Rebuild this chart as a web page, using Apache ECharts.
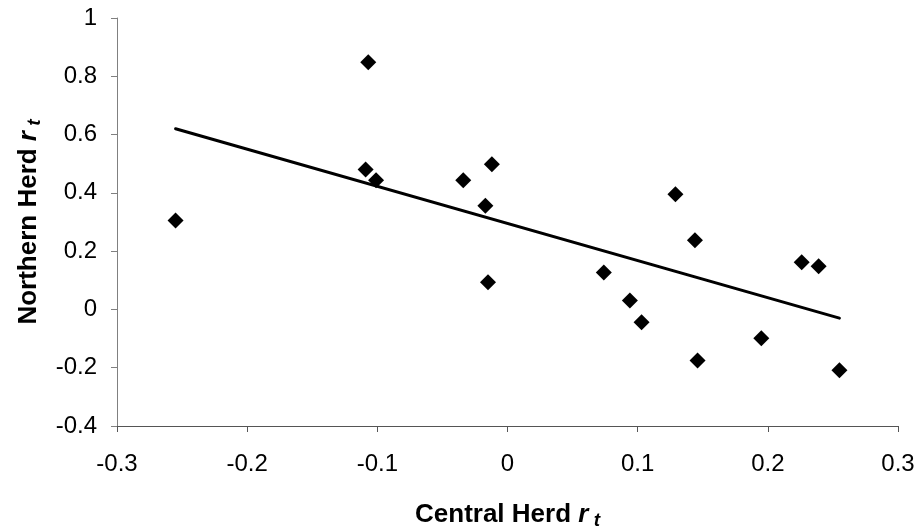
<!DOCTYPE html>
<html>
<head>
<meta charset="utf-8">
<script src="https://cdn.jsdelivr.net/npm/echarts@6/dist/echarts.min.js"></script>
<style>html,body{margin:0;padding:0;background:#fff}#c{width:923px;height:527px}</style>
</head>
<body>
<div id="c"></div>
<script>
var centralX = [-0.255, -0.107, -0.012, -0.109, -0.101, -0.034, -0.017, -0.015, 0.129, 0.144, 0.074, 0.094, 0.103, 0.146, 0.226, 0.239, 0.195, 0.255];
var northernY = [0.305, 0.848, 0.498, 0.480, 0.443, 0.443, 0.356, 0.093, 0.395, 0.237, 0.127, 0.031, -0.044, -0.175, 0.162, 0.148, -0.099, -0.209];
var trendX = [-0.255, 0.255];
var trendY = [0.620, -0.030];
var xTicks = {min: -0.3, max: 0.3, interval: 0.1};
var yTicks = {min: -0.4, max: 1, interval: 0.2};

var pts = centralX.map(function (x, i) { return [x, northernY[i]]; });
var trend = trendX.map(function (x, i) { return [x, trendY[i]]; });
var font = 'Liberation Sans, Arial, sans-serif';

function nameRich() {
  return {
    a: {fontFamily: font, fontSize: 26, fontWeight: 'bold', color: '#000'},
    b: {fontFamily: font, fontSize: 26, fontWeight: 'bold', fontStyle: 'italic', color: '#000'},
    c: {fontFamily: font, fontSize: 19, fontWeight: 'bold', fontStyle: 'italic', color: '#000', padding: [12, 0, 0, 0]}
  };
}

var chart = echarts.init(document.getElementById('c'), null, {renderer: 'canvas'});
chart.setOption({
  animation: false,
  backgroundColor: '#ffffff',
  grid: {left: 117, right: 25, top: 18, bottom: 101, containLabel: false, outerBoundsMode: 'none'},
  xAxis: {
    type: 'value', min: xTicks.min, max: xTicks.max, interval: xTicks.interval,
    splitLine: {show: false},
    axisLine: {onZero: false, lineStyle: {color: '#555', width: 1}},
    axisTick: {show: true, inside: false, length: 6, lineStyle: {color: '#555'}},
    axisLabel: {margin: 26, color: '#000', fontFamily: font, fontSize: 24,
      formatter: function (v) { return String(Math.round(v * 10) / 10); }},
    name: '{a|Central Herd }{b|r}{c| t}',
    nameLocation: 'middle', nameGap: 73,
    nameTextStyle: {rich: nameRich()}
  },
  yAxis: {
    type: 'value', min: yTicks.min, max: yTicks.max, interval: yTicks.interval,
    splitLine: {show: false},
    axisLine: {onZero: false, lineStyle: {color: '#808080', width: 1}},
    axisTick: {show: true, inside: false, length: 6, lineStyle: {color: '#808080'}},
    axisLabel: {margin: 20, color: '#000', fontFamily: font, fontSize: 24,
      formatter: function (v) { return String(Math.round(v * 10) / 10); }},
    name: '{a|Northern Herd }{b|r}{c| t}',
    nameLocation: 'middle', nameGap: 70, nameRotate: 90,
    nameTextStyle: {rich: nameRich()}
  },
  series: [
    {
      type: 'line', data: trend, symbol: 'none', silent: true,
      lineStyle: {color: '#000', width: 3, cap: 'round'}, z: 2
    },
    {
      type: 'scatter', data: pts, symbol: 'diamond', symbolSize: 16,
      itemStyle: {color: '#000', opacity: 1}, z: 3
    }
  ]
});
</script>
</body>
</html>
